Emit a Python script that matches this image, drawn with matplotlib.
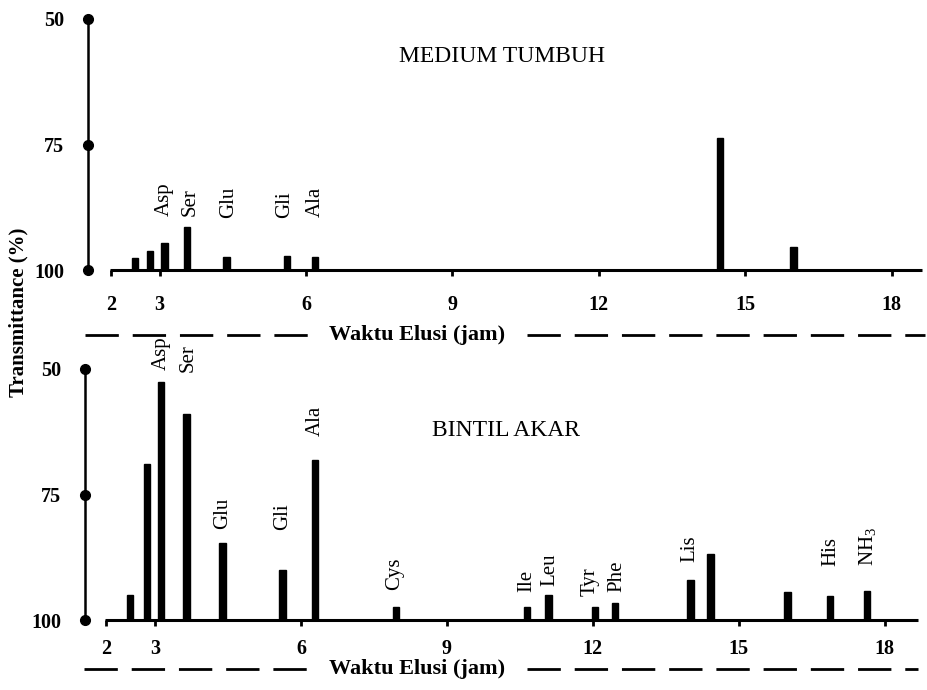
import matplotlib
matplotlib.use("Agg")
import matplotlib.pyplot as plt
from matplotlib.lines import Line2D

plt.rcParams['font.family'] = ['Liberation Serif', 'DejaVu Serif']
plt.rcParams['mathtext.fontset'] = 'custom'
plt.rcParams['mathtext.rm'] = 'Liberation Serif'

# --- data (waktu elusi dalam jam, transmittance dalam %) ---
medium_waktu = [2.49, 2.81, 3.10, 3.56, 4.37, 5.61, 6.19, 14.48, 15.99]
medium_trans = [97.6, 96.2, 94.7, 91.5, 97.4, 97.3, 97.4, 73.8, 95.4]
medium_label = ["Asp", "Ser", "Glu", "Gli", "Ala"]
medium_label_waktu = [3.10, 3.63, 4.42, 5.57, 6.20]
medium_label_trans = [89.2, 89.2, 89.6, 89.6, 89.4]

bintil_waktu = [2.49, 2.84, 3.12, 3.65, 4.39, 5.62, 6.29, 7.95, 10.65, 11.09,
                12.05, 12.45, 14.01, 14.42, 16.0, 16.88, 17.64]
bintil_trans = [95.0, 69.0, 52.5, 58.9, 84.7, 90.1, 68.1, 97.4, 97.4, 95.0,
                97.5, 96.7, 92.1, 86.9, 94.4, 95.3, 94.2]
bintil_label = ["Asp", "Ser", "Glu", "Gli", "Ala", "Cys", "Ile", "Leu", "Tyr",
                "Phe", "Lis", "His", r"NH$_{\mathrm{3}}$"]
bintil_label_waktu = [3.12, 3.68, 4.39, 5.62, 6.29, 7.93, 10.65, 11.12, 11.95,
                      12.50, 14.0, 16.89, 17.67]
bintil_label_trans = [50.2, 50.5, 81.9, 82.0, 63.4, 94.1, 94.5, 93.2, 95.2,
                      94.5, 88.5, 89.2, 89.2]

x_ticks = [2, 3, 6, 9, 12, 15, 18]
y_ticks = [50, 75, 100]

W, H = 928, 690
fig = plt.figure(figsize=(W / 100, H / 100), dpi=100)


def px_axes(left, right, top, bottom):
    return fig.add_axes([left / W, 1 - bottom / H, (right - left) / W, (bottom - top) / H])


def panel(ax, xlim, waktu, trans, labels, lab_x, lab_y, xpad):
    ax.set_xlim(*xlim)
    ax.set_ylim(100, 50)
    ax.bar(waktu, [t - 100 for t in trans], bottom=100, width=0.13,
           color='black', edgecolor='black')
    ax.hlines(100, 1.98, xlim[1], color='black', lw=2.2, clip_on=False)
    for s in ['top', 'right', 'bottom']:
        ax.spines[s].set_visible(False)
    ax.spines['left'].set_linewidth(1.8)
    ax.plot([xlim[0]] * 3, y_ticks, 'o', color='black', ms=7, clip_on=False)
    ax.set_yticks(y_ticks)
    ax.set_xticks(x_ticks)
    ax.tick_params(axis='y', length=0, pad=17, labelsize=14.5)
    ax.tick_params(axis='x', length=4, width=2, direction='out', pad=xpad, labelsize=14.5)
    for t in ax.get_xticklabels() + ax.get_yticklabels():
        t.set_fontweight('bold')
    for nm, x, y in zip(labels, lab_x, lab_y):
        ax.text(x, y, nm, rotation=90, ha='center', va='bottom', fontsize=15,
                clip_on=False)


ax1 = px_axes(88, 922, 19, 270)
panel(ax1, (1.533, 18.623), medium_waktu, medium_trans, medium_label,
      medium_label_waktu, medium_label_trans, 14)
fig.text(502 / W, 1 - 57 / H, "MEDIUM TUMBUH", fontsize=17, ha='center', va='center')

ax2 = px_axes(85, 918, 369, 620)
panel(ax2, (1.561, 18.684), bintil_waktu, bintil_trans, bintil_label,
      bintil_label_waktu, bintil_label_trans, 10)
fig.text(506 / W, 1 - 430 / H, "BINTIL AKAR", fontsize=17, ha='center', va='center')

fig.text(18 / W, 1 - 312 / H, "Transmittance (%)", rotation=90, fontsize=15,
         fontweight='bold', ha='center', va='center')

# garis putus-putus dengan label sumbu x
for y, a0, a1, b0, b1 in [(335, 85, 318, 527, 925), (669, 84, 317, 527, 918)]:
    for s0, s1 in [(a0, a1), (b0, b1)]:
        fig.add_artist(Line2D([s0 / W, s1 / W], [1 - y / H, 1 - y / H],
                              transform=fig.transFigure, color='black', lw=2,
                              dashes=(12, 5)))
    fig.text(329 / W, 1 - y / H, "Waktu Elusi (jam)", fontsize=16,
             fontweight='bold', ha='left', va='center')

fig.savefig("out.png", dpi=100, facecolor='white')
